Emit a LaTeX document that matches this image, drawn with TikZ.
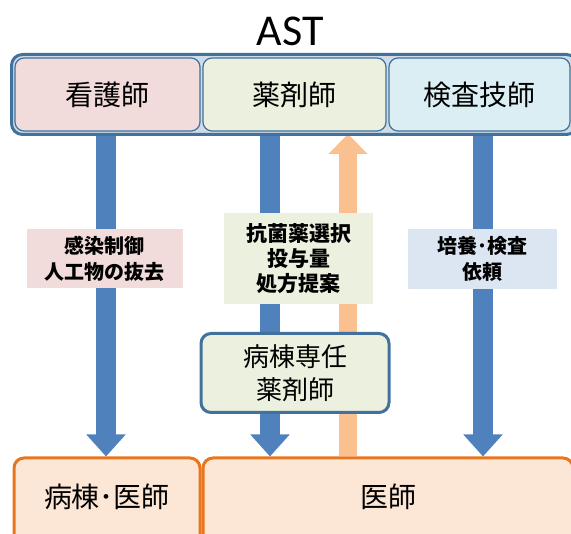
\documentclass[tikz,border=0pt]{standalone}
\usepackage{fontspec}
\setmainfont{Noto Sans CJK JP}
\newfontfamily\latinfont{Carlito}
\usetikzlibrary{arrows.meta,backgrounds}
\definecolor{frameblue}{HTML}{41719C}
\definecolor{pinkc}{HTML}{F2DCDB}
\definecolor{greenc}{HTML}{EBF1DE}
\definecolor{cyanc}{HTML}{DBEEF4}
\definecolor{labelblue}{HTML}{DCE6F2}
\definecolor{peach}{HTML}{FCE6D6}
\definecolor{orangeline}{HTML}{E8761E}
\definecolor{arrowblue}{HTML}{4F81BD}
\definecolor{arroworange}{HTML}{FAC090}
\tikzset{
  topbox/.style={draw=frameblue, line width=1.2pt, rounded corners=9pt, minimum height=73pt, inner sep=0pt, font=\fontsize{28}{30}\selectfont},
  labelbox/.style={inner sep=0pt, align=center, font=\bfseries\fontsize{20}{26}\selectfont},
  bottombox/.style={draw=orangeline, fill=peach, line width=3pt, rounded corners=10pt, inner sep=0pt, text height=50pt, text depth=40pt, font=\fontsize{28}{30}\selectfont},
  bluearrow/.style={draw=arrowblue, line width=20pt, -{Triangle[width=38pt,length=22pt]}},
  orangearrow/.style={draw=arroworange, line width=18pt, -{Triangle[width=38pt,length=20pt]}},
}
\begin{document}
\begin{tikzpicture}[x=1pt,y=-1pt]
\useasboundingbox (0,0) rectangle (571,534);
% title
\node[font=\latinfont\fontsize{44}{48}\selectfont] (title) at (290,31) {AST};
% top frame and boxes
\node[draw=frameblue, line width=3pt, rounded corners=11pt, fill=frameblue!25, minimum width=566pt, minimum height=80pt, inner sep=0pt] (frame) at (294.5,94.5) {};
\node[topbox, fill=pinkc, minimum width=185pt] (nurse) at (107.5,94.5) {看護師};
\node[topbox, fill=greenc, minimum width=183pt] (pharm) at (294.5,94.5) {薬剤師};
\node[topbox, fill=cyanc, minimum width=181pt] (tech) at (479.5,94.5) {検査技師};
% bottom boxes
\node[bottombox, minimum width=186pt] (wardmd) at (107,503) {病棟･医師};
\node[bottombox, minimum width=370pt] (doc) at (388,503) {医師};
% ward pharmacist
\node[draw=frameblue, fill=greenc, line width=3pt, rounded corners=10pt, minimum width=188pt, minimum height=79pt, inner sep=0pt, align=center, font=\fontsize{26}{33}\selectfont] (wardph) at (295,373) {病棟専任\\薬剤師};
% labels
\node[labelbox, fill=pinkc, minimum width=156pt, minimum height=59pt] (lab1) at (105,258.5) {感染制御\\人工物の抜去};
\node[labelbox, fill=greenc, minimum width=149pt, minimum height=91pt, font=\bfseries\fontsize{21}{25}\selectfont] (lab2) at (298.5,258.5) {抗菌薬選択\\投与量\\処方提案};
\node[labelbox, fill=labelblue, minimum width=149pt, minimum height=60pt] (lab3) at (482.5,259) {培養･検査\\依頼};
% arrow columns
\coordinate (lx) at (106,0);
\coordinate (mx) at (270,0);
\coordinate (rx) at (483,0);
\coordinate (otip) at (348,134);
\begin{scope}[on background layer]
\draw[bluearrow] (nurse.south -| lx) -- (wardmd.north -| lx);
\draw[bluearrow] (pharm.south -| mx) -- (doc.north -| mx);
\draw[bluearrow] (tech.south -| rx) -- (doc.north -| rx);
\draw[orangearrow] (doc.north -| otip) -- (otip);
\end{scope}
\end{tikzpicture}
\end{document}
